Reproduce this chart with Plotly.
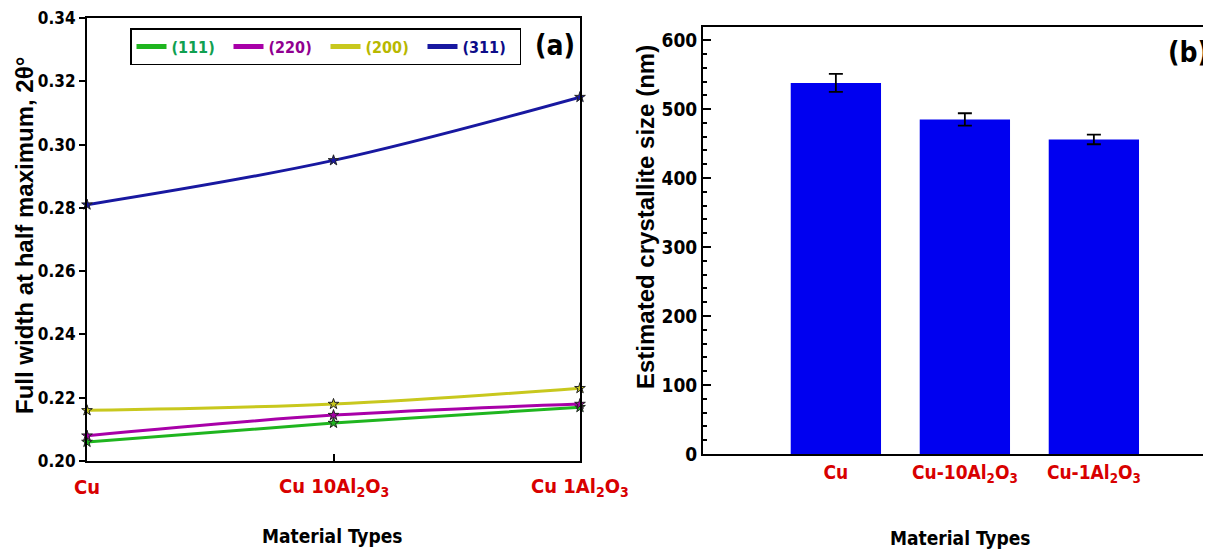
import plotly.graph_objects as go

# ---------------- data ----------------
materials_a = ["Cu", "Cu 10Al<sub>2</sub>O<sub>3</sub>", "Cu 1Al<sub>2</sub>O<sub>3</sub>"]
fwhm_111 = [0.206, 0.212, 0.217]
fwhm_220 = [0.208, 0.2145, 0.218]
fwhm_200 = [0.216, 0.218, 0.223]
fwhm_311 = [0.281, 0.295, 0.315]
series_names = ["(111)", "(220)", "(200)", "(311)"]
series_colors = ["#1fb51f", "#a800a8", "#c8c81e", "#1818a0"]
legend_text_colors = ["#10a050", "#900090", "#b8b800", "#0c0c88"]

materials_b = ["Cu", "Cu-10Al<sub>2</sub>O<sub>3</sub>", "Cu-1Al<sub>2</sub>O<sub>3</sub>"]
size_nm = [538, 485, 456]
size_err = [13, 9, 7]

yticks_a = [0.20, 0.22, 0.24, 0.26, 0.28, 0.30, 0.32, 0.34]
yticks_b = [0, 100, 200, 300, 400, 500, 600]

NARROW = "DejaVu Sans Condensed, Liberation Sans Narrow, Arial Narrow, Liberation Sans"
WIDE = "Liberation Sans, Arial"
RED = "#d80000"

W, H = 1211, 554
OFF = 8  # page body margin offset of the rendered figure

def px(x):
    return (x - OFF) / W
def py(y):
    return 1 - (y - OFF) / H

fig = go.Figure()

xa = list(range(len(materials_a)))
for name, vals, col in zip(series_names, [fwhm_111, fwhm_220, fwhm_200, fwhm_311], series_colors):
    fig.add_trace(go.Scatter(
        x=xa, y=vals, mode="lines+markers", line=dict(color=col, width=3, shape="spline"),
        marker=dict(symbol="star", size=8, color=col, line=dict(color="#222222", width=1)),
        showlegend=False, cliponaxis=False, xaxis="x", yaxis="y"))
# legend-only entries (line only)
for name, col, tcol in zip(series_names, series_colors, legend_text_colors):
    fig.add_trace(go.Scatter(
        x=[None], y=[None], mode="lines", line=dict(color=col, width=5),
        name=f"<span style='color:{tcol}'>{name}</span>", xaxis="x", yaxis="y"))

xb = [1, 2, 3]
fig.add_trace(go.Bar(
    x=xb, y=size_nm, width=0.7, marker=dict(color="#0000f0", line=dict(width=0)),
    error_y=dict(type="data", array=size_err, color="black", thickness=1.8, width=7),
    showlegend=False, xaxis="x2", yaxis="y2"))

axis_common = dict(showline=True, linecolor="black", linewidth=2, showgrid=False, zeroline=False)

fig.update_layout(
    width=W, height=H, margin=dict(l=0, r=0, t=0, b=0, autoexpand=False),
    paper_bgcolor="white", plot_bgcolor="white",
    xaxis=dict(domain=[px(87), px(580)], range=[0, 2], tickvals=[1], ticktext=[""],
               ticks="inside", ticklen=7, tickwidth=2, tickcolor="black", mirror=True,
               anchor="y", **axis_common),
    yaxis=dict(domain=[py(461), py(18)], range=[0.20, 0.34], tickvals=yticks_a,
               ticktext=[f"{v:.2f}" for v in yticks_a], ticks="outside", ticklen=6,
               tickwidth=2, tickcolor="black", mirror=True, anchor="x",
               ticklabeloverflow="allow",
               tickfont=dict(family=NARROW, size=17, color="black", weight="bold"),
               **axis_common),
    xaxis2=dict(domain=[px(703), 1.0], range=[-0.03, 3.97], tickvals=xb, ticktext=materials_b,
                ticks="", mirror=True, anchor="y2",
                tickfont=dict(family=NARROW, size=19, color=RED, weight="bold"),
                **axis_common),
    yaxis2=dict(domain=[py(454), py(27)], range=[0, 619], tickvals=yticks_b,
                ticks="inside", ticklen=8, tickwidth=2, tickcolor="black",
                minor=dict(dtick=20, ticks="inside", ticklen=4, tickwidth=1.5, tickcolor="black"),
                anchor="x2", ticklabeloverflow="allow",
                tickfont=dict(family=NARROW, size=19, color="black", weight="bold"),
                **axis_common),
    bargap=0.3,
    legend=dict(orientation="h", x=px(130), y=py(28), xanchor="left", yanchor="top",
                bordercolor="black", borderwidth=1.5, bgcolor="white",
                font=dict(family=NARROW, size=16, weight="bold"),
                itemwidth=30, entrywidthmode="pixels", entrywidth=52),
)

annotations = []
for i, lab in enumerate(materials_a):
    annotations.append(dict(x=xa[i], y=py(487), xref="x", yref="paper", yanchor="middle",
                            xanchor="center", text=lab, showarrow=False,
                            font=dict(family=NARROW, size=20, color=RED, weight="bold")))

def ann(x, y, text, size, family, angle=0):
    return dict(x=px(x), y=py(y), xref="paper", yref="paper", text=text, textangle=angle,
                xanchor="center", yanchor="middle", showarrow=False,
                font=dict(family=family, size=size, color="black", weight="bold"))

annotations += [
    ann(332, 536, "Material Types", 19, NARROW),
    ann(960, 538, "Material Types", 19, NARROW),
    ann(24, 236, "Full width at half maximum, 2θ°", 24, WIDE, -90),
    ann(645, 217, "Estimated crystallite size (nm)", 24, WIDE, -90),
    ann(555, 46, "(a)", 28, NARROW),
    ann(1188, 52, "(b)", 28, NARROW),
]
fig.update_layout(annotations=annotations)

fig.write_html("out.html")
